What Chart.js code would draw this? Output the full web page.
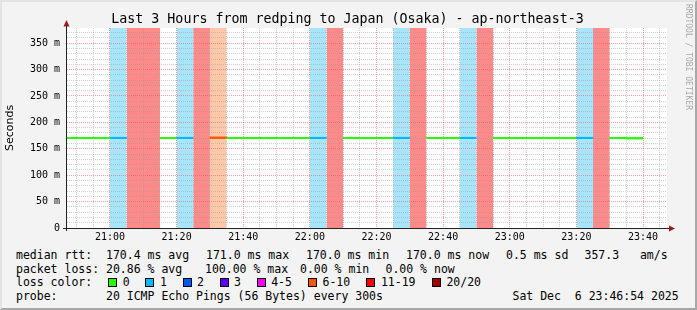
<!DOCTYPE html>
<html>
<head>
<meta charset="utf-8">
<script src="https://cdn.jsdelivr.net/npm/chart.js@4.4.1/dist/chart.umd.min.js"></script>
<style>
    html, body { margin: 0; padding: 0; background: #f3f3f3; }
    #wrap { position: relative; width: 697px; height: 310px; overflow: hidden; }
    #frame { position: absolute; left: 0; top: 0; width: 697px; height: 310px; box-sizing: border-box;
             border: 2px solid; border-color: #e4e4e4 #a8a8a8 #a8a8a8 #e4e4e4; pointer-events: none; }
    #chart { position: absolute; left: 0; top: 0; }
    .mono { position: absolute; font-family: 'DejaVu Sans Mono', monospace; color: #000; white-space: pre; }
    .leg { font-size: 11.5px; line-height: 14px; }
    #title { left: 0; width: 695px; top: 10.5px; text-align: center; font-size: 13.3px; line-height: 16px; }
    #mark { left: 683.5px; top: 4px; font-size: 8px; line-height: 8px; color: #a8a8a8; writing-mode: vertical-rl; }
    .box { position: absolute; width: 7px; height: 7px; border: 1px solid #000; }
</style>
</head>
<body>
<div id="wrap">
    <canvas id="chart" width="697" height="246"></canvas>
    <div id="title" class="mono">Last 3 Hours from redping to Japan (Osaka) - ap-northeast-3</div>
    <div id="mark" class="mono">RRDTOOL / TOBI OETIKER</div>
    <div id="legend"></div>
    <div id="frame"></div>
</div>
<script>
// --- data: one entry per 5 minute probe interval ---
const intervalStart = ['20:45', '20:50', '20:55', '21:00', '21:05', '21:10', '21:15', '21:20', '21:25', '21:30',
                       '21:35', '21:40', '21:45', '21:50', '21:55', '22:00', '22:05', '22:10', '22:15', '22:20',
                       '22:25', '22:30', '22:35', '22:40', '22:45', '22:50', '22:55', '23:00', '23:05', '23:10',
                       '23:15', '23:20', '23:25', '23:30', '23:35'];
const lossCount = [0, 0, 0, 1, 20, 20, 0, 1, 20, 8,
                   0, 0, 0, 0, 0, 1, 20, 0, 0, 0,
                   1, 20, 0, 0, 1, 20, 0, 0, 0, 0,
                   0, 1, 20, 0, 0];
const medianMs = [170.4, 170.3, 170.4, 170.5, null, null, 170.4, 170.5, null, 171.0,
                  170.4, 170.3, 170.4, 170.5, 170.4, 170.5, null, 170.4, 170.3, 170.4,
                  170.5, null, 170.4, 170.3, 170.5, null, 170.4, 170.3, 170.4, 170.4,
                  170.5, 170.5, null, 170.3, 170.0];

// loss colour bins
const lossLabels = ['0', '1', '2', '3', '4-5', '6-10', '11-19', '20/20'];
const lossUpper = [0, 1, 2, 3, 5, 10, 19, 20];
const lossColors = ['#26ff00', '#00b8ff', '#0059ff', '#5e00ff', '#ff00ff', '#ff5500', '#ff0000', '#a10000'];
const bandColors = [null, '#a8e4fa', '#a8c4ff', '#c8a8ff', '#ffa8ff', '#ffc8a8', '#ff9a9a', '#ff8a8a'];

// legend texts (text, left x)
const rttLine = [['median rtt:  170.4 ms avg', 16], ['171.0 ms max', 206], ['170.0 ms min', 306],
                 ['170.0 ms now', 406], ['0.5 ms sd', 506], ['357.3   am/s', 584.5]];
const lossLine = [['packet loss: 20.86 % avg', 16], ['100.00 % max', 205], ['0.00 % min', 300],
                  ['0.00 % now', 385.5]];
const probeLine = [['probe:       20 ICMP Echo Pings (56 Bytes) every 300s', 16], ['Sat Dec  6 23:46:54 2025', 512.5]];

const STEP = 5;           // minutes per interval
const X_MIN = 1247.1;     // 20:47:06
const X_MAX = 1427.2;
const Y_MAX = 378.7;

const toMin = s => { const p = s.split(':'); return +p[0] * 60 + +p[1]; };
const binOf = n => lossUpper.findIndex(u => n <= u);
const fmtTime = m => { const h = Math.floor(m / 60), mm = m % 60; return (h < 10 ? '0' : '') + h + ':' + (mm < 10 ? '0' : '') + mm; };

// median line: two points per interval so each interval is a flat step
const linePts = [];
intervalStart.forEach((s, i) => {
    const t = toMin(s);
    linePts.push({x: t, y: medianMs[i]}, {x: t + STEP, y: medianMs[i]});
});

const datasets = [{
    data: linePts,
    borderWidth: 2,
    borderColor: lossColors[0],
    pointRadius: 0,
    spanGaps: false,
    segment: { borderColor: c => lossColors[binOf(lossCount[Math.floor(c.p0DataIndex / 2)])] }
}];

// loss background bands, one dataset per loss bin
for (let b = 1; b < lossLabels.length; b++) {
    const pts = [];
    let any = false;
    intervalStart.forEach((s, i) => {
        const t = toMin(s);
        const hit = lossCount[i] > 0 && binOf(lossCount[i]) === b;
        if (hit) any = true;
        pts.push({x: t, y: hit ? Y_MAX : null}, {x: t + STEP, y: hit ? Y_MAX : null});
    });
    if (any) datasets.push({
        data: pts, borderWidth: 0, pointRadius: 0, spanGaps: false,
        fill: 'origin', backgroundColor: bandColors[b], borderColor: 'rgba(0,0,0,0)'
    });
}

const majorGrid = 'rgba(230,90,90,0.55)';
const minorGrid = 'rgba(150,150,150,0.45)';

const rrdPlugin = {
    id: 'rrd',
    beforeDraw(chart) {
        const {ctx, chartArea: a} = chart;
        ctx.save();
        ctx.fillStyle = '#ffffff';
        ctx.fillRect(a.left, a.top, a.right - a.left, a.bottom - a.top);
        ctx.restore();
    },
    afterDraw(chart) {
        const {ctx, chartArea: a} = chart;
        // put the median line back above the grid
        ctx.save();
        ctx.beginPath();
        ctx.rect(a.left, a.top, a.right - a.left, a.bottom - a.top);
        ctx.clip();
        chart.getDatasetMeta(0).controller.draw();
        ctx.restore();

        // axes with arrows
        ctx.save();
        ctx.fillStyle = '#222';
        ctx.fillRect(a.left - 1, 22, 1, a.bottom - 22 + 3);
        ctx.fillRect(a.left - 4, a.bottom, a.right - a.left + 6, 1);
        ctx.fillStyle = '#9b1a1a';
        ctx.beginPath();
        ctx.moveTo(a.left - 3.5, 26.5); ctx.lineTo(a.left + 2.5, 26.5); ctx.lineTo(a.left - 0.5, 20);
        ctx.closePath(); ctx.fill();
        ctx.beginPath();
        ctx.moveTo(a.right + 2, a.bottom - 2.5); ctx.lineTo(a.right + 2, a.bottom + 3.5); ctx.lineTo(a.right + 8, a.bottom + 0.5);
        ctx.closePath(); ctx.fill();
        ctx.restore();
    }
};

new Chart(document.getElementById('chart'), {
    type: 'line',
    data: { datasets: datasets },
    plugins: [rrdPlugin],
    options: {
        responsive: false,
        animation: false,
        devicePixelRatio: 1,
        layout: { padding: { top: 28, right: 30, left: 0, bottom: 0 } },
        plugins: { legend: { display: false }, tooltip: { enabled: false } },
        scales: {
            x: {
                type: 'linear',
                min: X_MIN,
                max: X_MAX,
                afterFit: s => { s.height = 18; },
                grid: {
                    z: 1, drawTicks: false,
                    color: c => (c.tick && Math.round(c.tick.value) % 20 === 0) ? majorGrid : minorGrid
                },
                border: { display: false, dash: [1, 1] },
                ticks: {
                    stepSize: 5, includeBounds: false, autoSkip: false, maxRotation: 0, padding: 3.5,
                    color: '#000',
                    font: { family: 'DejaVu Sans Mono', size: 10 },
                    callback: v => { const m = Math.round(v); return m % 20 === 0 ? fmtTime(m) : ''; }
                }
            },
            y: {
                min: 0,
                max: Y_MAX,
                afterFit: s => { s.width = 67; },
                grid: {
                    z: 1, drawTicks: false,
                    color: c => (c.tick && Math.round(c.tick.value) % 50 === 0) ? majorGrid : minorGrid
                },
                border: { display: false, dash: [1, 1] },
                title: {
                    display: true, text: 'Seconds', color: '#000',
                    font: { family: 'DejaVu Sans', size: 11 }, padding: { top: 4, bottom: 0 }
                },
                ticks: {
                    stepSize: 10, includeBounds: false, autoSkip: false, padding: 7,
                    color: '#000',
                    font: { family: 'DejaVu Sans Mono', size: 10 },
                    callback: v => { const m = Math.round(v); return m === 0 ? '0' : (m % 50 === 0 ? m + ' m' : ''); }
                }
            }
        }
    }
});

// --- text legend below the plot ---
const legend = document.getElementById('legend');
function addText(text, x, y) {
    const d = document.createElement('div');
    d.className = 'mono leg';
    d.style.left = x + 'px';
    d.style.top = y + 'px';
    d.textContent = text;
    legend.appendChild(d);
}
rttLine.forEach(([t, x]) => addText(t, x, 247.9));
lossLine.forEach(([t, x]) => addText(t, x, 261.5));
addText('loss color:', 16, 275.3);
let bx = 108.3;
lossLabels.forEach((lab, i) => {
    const b = document.createElement('div');
    b.className = 'box';
    b.style.left = bx + 'px';
    b.style.top = '277.7px';
    b.style.background = lossColors[i];
    legend.appendChild(b);
    addText(lab, bx + 14.5, 275.3);
    bx += 30 + 7.1 * lab.length;
});
probeLine.forEach(([t, x]) => addText(t, x, 288.9));
</script>
</body>
</html>
